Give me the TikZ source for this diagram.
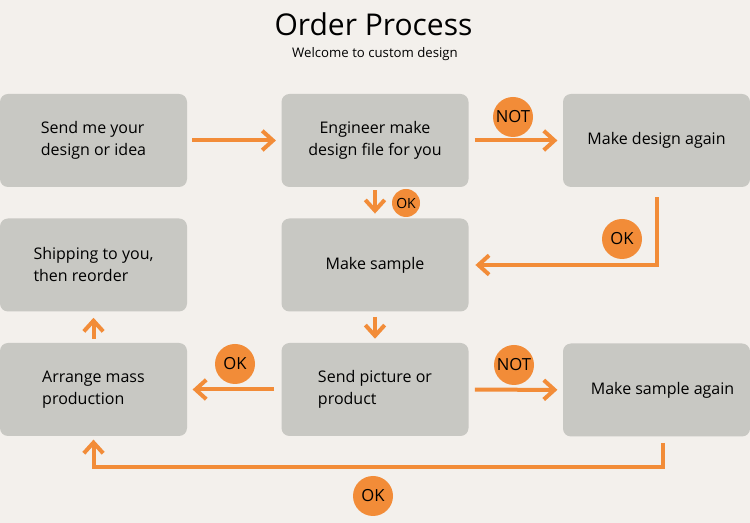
\documentclass[tikz,border=0pt]{standalone}
\usepackage{fontspec}
\setmainfont{Open Sans}
\usetikzlibrary{positioning,arrows.meta}
\definecolor{bgcol}{HTML}{F3F0EC}
\definecolor{boxcol}{HTML}{C8C8C3}
\definecolor{orangecol}{HTML}{F28C38}
\tikzset{
  stepbox/.style={fill=boxcol, rounded corners=6pt, minimum width=140.25pt,
    minimum height=69.75pt, inner sep=0pt, align=left,
    font=\fontsize{12}{16.5}\selectfont},
  flow/.style={draw=orangecol, line width=3pt,
    -{Straight Barb[length=8pt,width=14.5pt]}},
  badge/.style={circle, fill=orangecol, minimum size=30pt, inner sep=0pt,
    font=\fontsize{12.5}{12}\selectfont},
}
\begin{document}
\begin{tikzpicture}[x=0.75pt, y=-0.75pt]
    \useasboundingbox[fill=bgcol] (0,0) rectangle (750,523);
    % title
    \node[anchor=base, font=\fontsize{22.5}{24}\selectfont] (title) at (373.5,36) {Order Process};
    \node[anchor=base, font=\fontsize{9.9}{12}\selectfont] (subtitle) at (375,58) {Welcome to custom design};
    % steps
    \node[stepbox] (send)     at (93.5,140.5) {Send me your\\design or idea};
    \node[stepbox, align=center] (engineer) at (375,140.5)  {Engineer make\\design file for you};
    \node[stepbox] (redesign) at (656.5,140.5) {Make design again};
    \node[stepbox] (ship)     at (93.5,265)   {Shipping to you,\\then reorder};
    \node[stepbox] (sample)   at (375,265)    {Make sample};
    \node[stepbox] (mass)     at (93.5,389.5) {Arrange mass\\production};
    \node[stepbox] (check)    at (375,389.5)  {Send picture or\\product};
    \node[stepbox] (resample) at (656.5,390)  {\hspace{9pt}Make sample again};
    % arrows
    \draw[flow, shorten <=3.75pt, shorten >=4pt] (send) -- (engineer);
    \draw[flow, shorten <=4.5pt, shorten >=4pt] (engineer) -- (redesign);
    \draw[flow, shorten <=2.25pt, shorten >=3.5pt] (engineer) -- (sample);
    \draw[flow, shorten <=7.5pt, shorten >=5pt] (redesign.south) |- (sample.east);
    \draw[flow, shorten <=3.75pt, shorten >=3pt] (sample) -- (check);
    \draw[flow, shorten <=3pt, shorten >=4.5pt] (mass) -- (ship);
    \draw[flow, shorten <=5.25pt, shorten >=4pt] (check) -- (mass);
    \draw[flow, shorten <=4.5pt, shorten >=4pt] (check) -- (resample);
    \draw[flow, shorten <=4.5pt, shorten >=2.5pt] ([xshift=4.9pt]resample.south) -- ++(0,30) -| (mass.south);
    % badges
    \node[badge] (not1) at (513,117) {NOT};
    \node[badge, minimum size=21pt, font=\fontsize{10.5}{10}\selectfont] (ok1) at (406,203) {OK};
    \node[badge] (ok2) at (622,239) {OK};
    \node[badge] (ok3) at (235,364) {OK};
    \node[badge] (not2) at (514,365) {NOT};
    \node[badge] (ok4) at (373,496) {OK};
\end{tikzpicture}
\end{document}
